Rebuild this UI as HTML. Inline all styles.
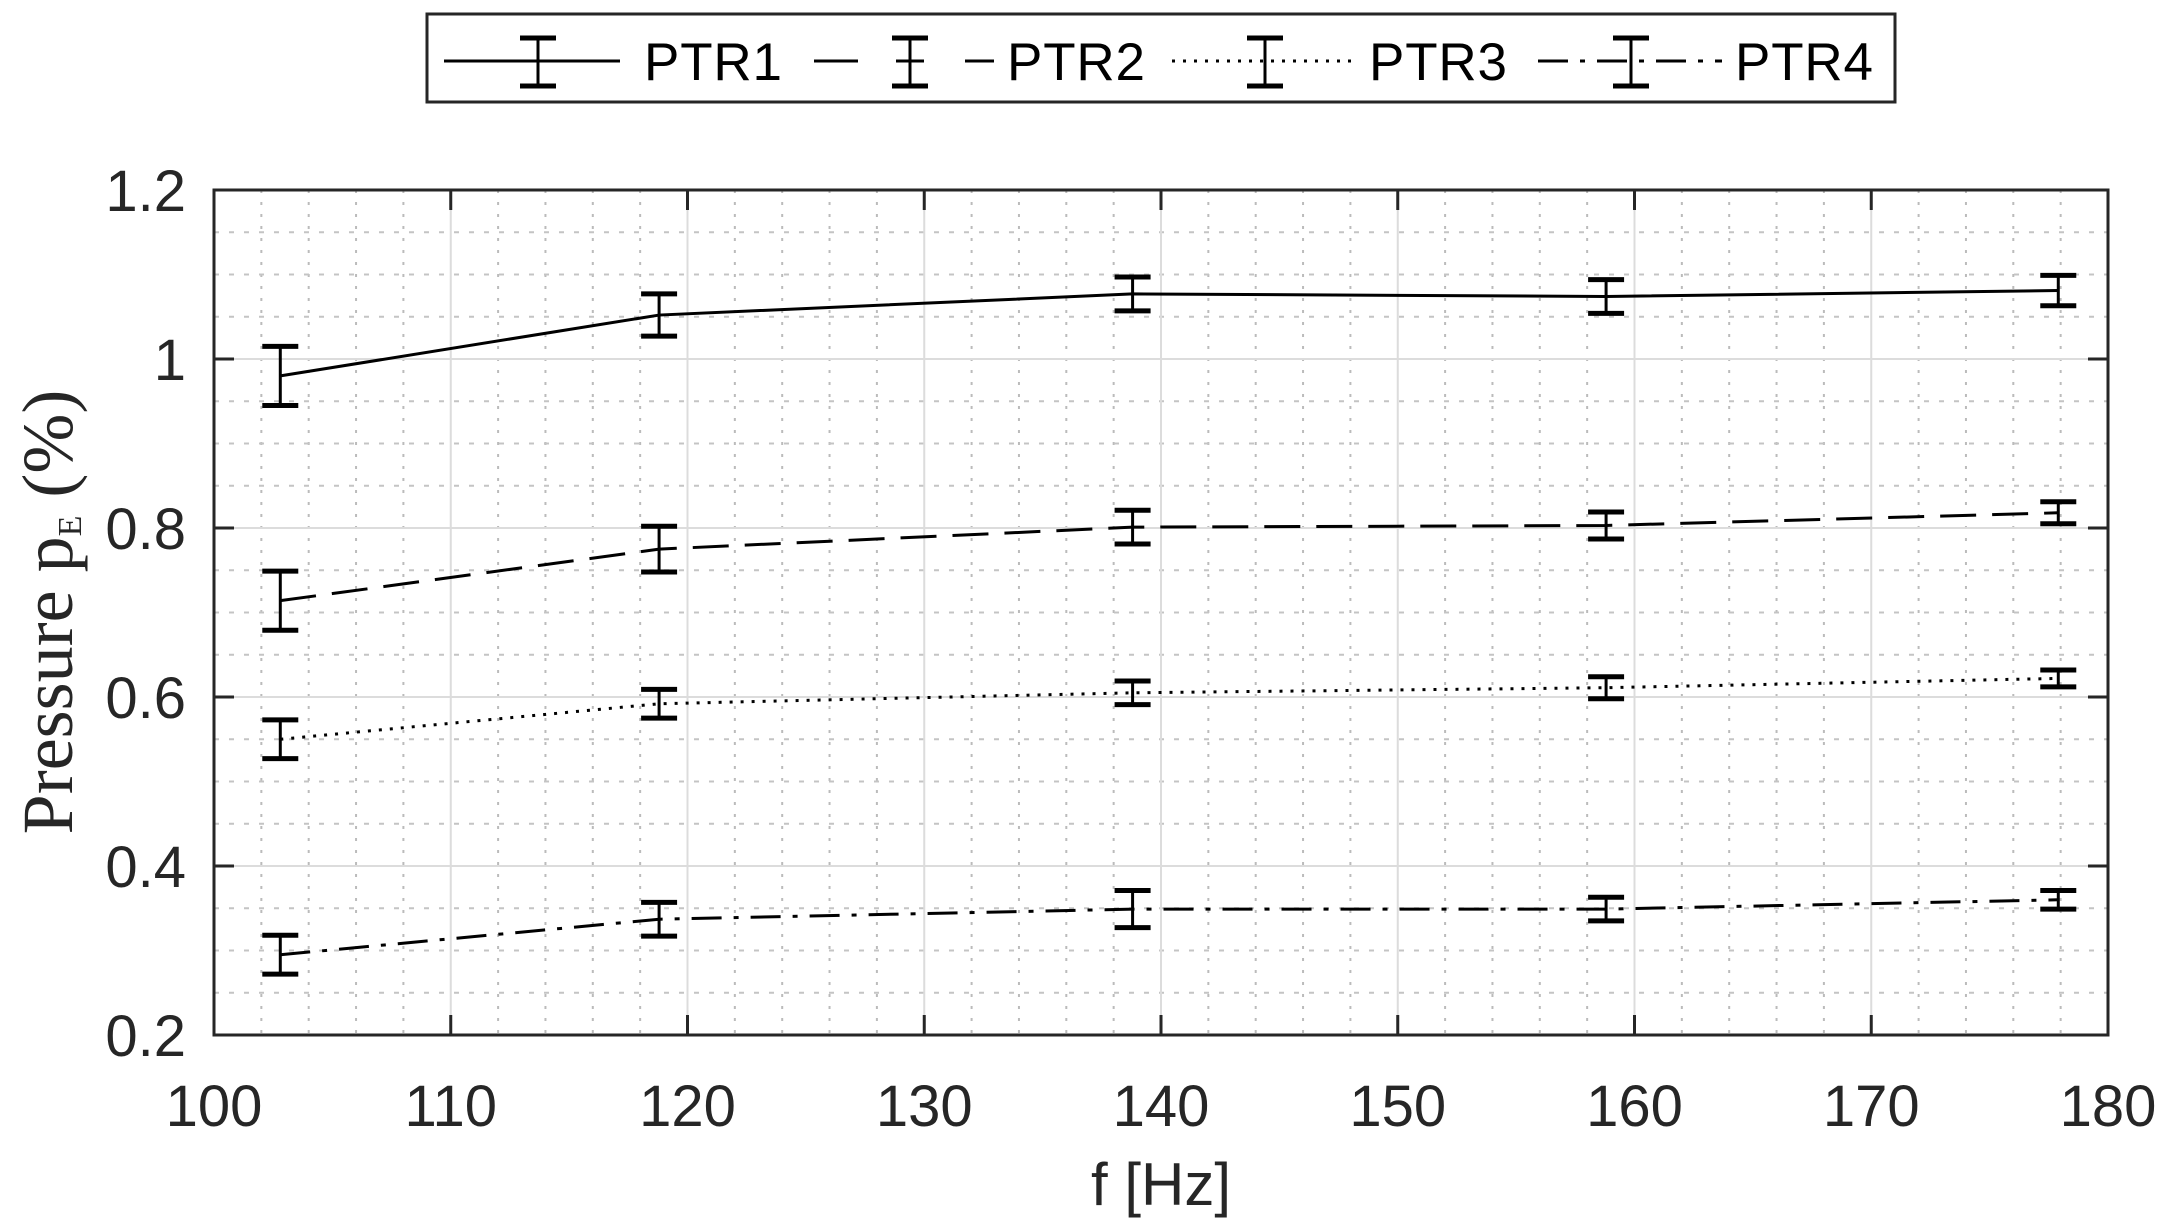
<!DOCTYPE html>
<html><head><meta charset="utf-8"><style>body{margin:0;background:#fff}svg{display:block}</style></head><body>
<svg width="2162" height="1231" viewBox="0 0 2162 1231" xmlns="http://www.w3.org/2000/svg">
<rect width="2162" height="1231" fill="#fff"/>
<g id="grid"></g>
<g id="plot"></g>
<rect x="214" y="190" width="1894" height="845" fill="none" stroke="#262626" stroke-width="3"/>
<g id="ticks" stroke="#262626" stroke-width="3"></g>
<g font-family="Liberation Sans, Arial, sans-serif" font-size="58" fill="#262626" id="labels"></g>
<text x="0" y="0" transform="translate(72,612) rotate(-90)" text-anchor="middle" font-family="Liberation Serif, serif" font-size="72" fill="#262626">Pressure p<tspan font-size="34" dy="9">E</tspan><tspan dy="-9">  (%)</tspan></text>
<text x="1161" y="1205" text-anchor="middle" font-family="Liberation Sans, Arial, sans-serif" font-size="60" fill="#262626">f [Hz]</text>
<rect x="427" y="14" width="1468" height="88" fill="#fff" stroke="#262626" stroke-width="3"/>
<g id="legend" stroke="#000" stroke-width="3"></g>
<g font-family="Liberation Sans, Arial, sans-serif" font-size="53" fill="#000" textLength="138">
<text x="644" y="80" textLength="138">PTR1</text><text x="1007" y="80" textLength="138">PTR2</text><text x="1369" y="80" textLength="138">PTR3</text><text x="1735" y="80" textLength="138">PTR4</text>
</g>
<script>
const NS="http://www.w3.org/2000/svg";
function el(p,t,a){const e=document.createElementNS(NS,t);for(const k in a)e.setAttribute(k,a[k]);p.appendChild(e);return e;}
const X=f=>214+(f-100)*23.675, Y=v=>1035-(v-0.2)*845;
const g=document.getElementById('grid');
for(let f=102;f<180;f+=2){if(f%10)el(g,'line',{x1:X(f),x2:X(f),y1:190,y2:1035,stroke:'#bbb','stroke-width':2,'stroke-dasharray':'3,9'});}
for(let i=1;i<20;i++){if(i%4){const v=0.2+i*0.05;el(g,'line',{x1:214,x2:2108,y1:Y(v),y2:Y(v),stroke:'#c4c4c4','stroke-width':2,'stroke-dasharray':'5,10'});}}
for(let f=110;f<180;f+=10)el(g,'line',{x1:X(f),x2:X(f),y1:190,y2:1035,stroke:'#dcdcdc','stroke-width':2});
for(let v=0.4;v<1.19;v+=0.2)el(g,'line',{x1:214,x2:2108,y1:Y(v),y2:Y(v),stroke:'#dcdcdc','stroke-width':2});
const t=document.getElementById('ticks'),L=document.getElementById('labels');
for(let f=100;f<=180;f+=10){el(t,'line',{x1:X(f),x2:X(f),y1:1035,y2:1015});el(t,'line',{x1:X(f),x2:X(f),y1:190,y2:210});
 el(L,'text',{x:X(f),y:1126,'text-anchor':'middle'}).textContent=f;}
[[0.2,'0.2'],[0.4,'0.4'],[0.6,'0.6'],[0.8,'0.8'],[1.0,'1'],[1.2,'1.2']].forEach(([v,s])=>{el(t,'line',{x1:214,x2:234,y1:Y(v),y2:Y(v)});el(t,'line',{x1:2088,x2:2108,y1:Y(v),y2:Y(v)});
 el(L,'text',{x:186,y:Y(v)+21,'text-anchor':'end'}).textContent=s;});
const fx=[102.8,118.8,138.8,158.8,177.9];
const S=[
 {d:'',y:[0.98,1.052,1.077,1.074,1.081],e:[0.035,0.025,0.02,0.02,0.018]},
 {d:'36,16',y:[0.714,0.775,0.801,0.803,0.818],e:[0.035,0.027,0.02,0.016,0.013]},
 {d:'3,8',y:[0.55,0.592,0.605,0.611,0.622],e:[0.023,0.017,0.014,0.013,0.01]},
 {d:'30,12,5,12',y:[0.295,0.337,0.349,0.349,0.36],e:[0.023,0.02,0.022,0.014,0.011]}];
const p=document.getElementById('plot');
S.forEach(s=>{el(p,'polyline',{points:fx.map((f,i)=>X(f)+','+Y(s.y[i])).join(' '),fill:'none',stroke:'#000','stroke-width':3,'stroke-dasharray':s.d||'none'});
 fx.forEach((f,i)=>{const x=X(f),a=Y(s.y[i]+s.e[i]),b=Y(s.y[i]-s.e[i]);
 el(p,'line',{x1:x,x2:x,y1:a,y2:b,stroke:'#000','stroke-width':3});
 el(p,'line',{x1:x-18,x2:x+18,y1:a,y2:a,stroke:'#000','stroke-width':5});
 el(p,'line',{x1:x-18,x2:x+18,y1:b,y2:b,stroke:'#000','stroke-width':5});});});
const lg=document.getElementById('legend');
[[444,620,538,''],[1172,1358,1265,'3,8'],[1538,1722,1631,'30,12,5,12']].forEach(([a,b,c,d])=>{
 el(lg,'line',{x1:a,x2:b,y1:61,y2:61,'stroke-dasharray':d||'none'});});
[[814,858],[896,924],[965,994]].forEach(([a,b])=>el(lg,'line',{x1:a,x2:b,y1:61,y2:61}));
[538,910,1265,1631].forEach(c=>{
 el(lg,'line',{x1:c,x2:c,y1:38,y2:86});
 el(lg,'line',{x1:c-18,x2:c+18,y1:38,y2:38,'stroke-width':5});
 el(lg,'line',{x1:c-18,x2:c+18,y1:86,y2:86,'stroke-width':5});});
</script>
</svg>
</body></html>
